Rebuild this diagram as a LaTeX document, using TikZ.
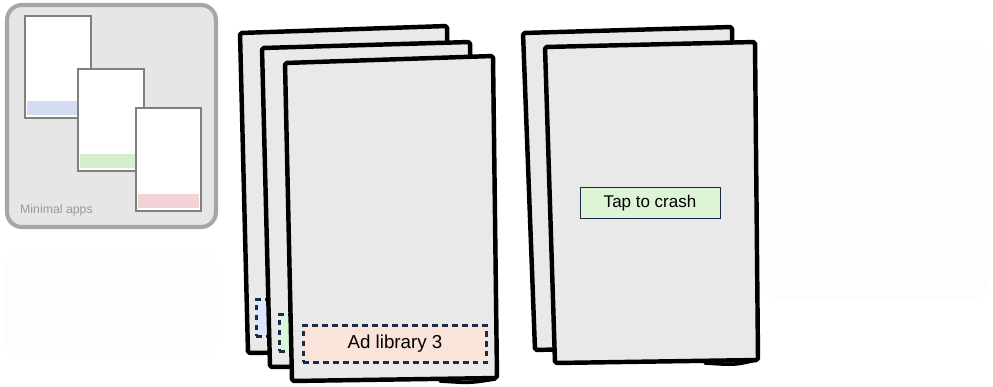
\documentclass[tikz,border=0pt]{standalone}
\usepackage{fontspec}
\setmainfont{Liberation Sans}
\usetikzlibrary{positioning}

\definecolor{pagegray}{HTML}{E9E9E9}
\definecolor{navy}{HTML}{1B2A47}
\definecolor{adblue}{HTML}{DBE6FB}
\definecolor{adgreen}{HTML}{DCF6D9}
\definecolor{adpeach}{HTML}{FAE3D8}
\definecolor{btngreen}{HTML}{DDF5D6}
\definecolor{thumbgray}{HTML}{E6E6E6}
\definecolor{fadegray}{HTML}{FDFDFD}
\definecolor{bandblue}{HTML}{D3DCF3}
\definecolor{bandgreen}{HTML}{D6EDCE}
\definecolor{bandred}{HTML}{F4D3D6}

\begin{document}
\begin{tikzpicture}[x=0.03cm,y=-0.03cm,
  page/.style={draw=black, line width=3.8pt, fill=pagegray, line join=round, rounded corners=1.5pt},
  sketch/.style={draw=black, line width=3pt, line cap=round},
  adbox/.style={draw=navy, fill=#1, dashed, dash pattern=on 5pt off 3.5pt, line width=2.3pt,
    minimum width=5.5cm, minimum height=1.1cm, inner sep=0pt, font=\fontsize{16}{18}\selectfont},
  button/.style={draw=navy, fill=btngreen, line width=0.8pt, minimum width=4.2cm,
    minimum height=0.93cm, inner sep=0pt, font=\fontsize{14.5}{16}\selectfont},
  phone/.style={draw=black!50, fill=white, line width=1.8pt},
  fadebox/.style={fill=fadegray, rounded corners=0.6cm}]

\useasboundingbox (0,0) rectangle (993,386);

% faded panels
\fill[fadebox] (760,42) rectangle (990,300);
\fill[fadebox] (5,250) rectangle (217,358);

% thumbnail of the minimal apps
\draw[draw=black!35, fill=thumbgray, line width=3.5pt, rounded corners=0.45cm] (7,5) rectangle (216,227);
\draw[phone] (25,16) rectangle (91,118);
\fill[bandblue] (27,101) rectangle (89,115);
\draw[phone] (78,69) rectangle (144,171);
\fill[bandgreen] (80,154) rectangle (142,168);
\draw[phone] (136,108) rectangle (201,211);
\fill[bandred] (138,194) rectangle (199,208);
\node[text=black!40, font=\fontsize{10.5}{12}\selectfont, anchor=west, inner sep=0pt] (thumbtext) at (20,210) {Minimal apps};

% left stack, back to front
\draw[page] (240,33) -- (447,26) -- (452,350) -- (248,353) -- cycle;
\node[adbox=adblue] (adA) at (348,318) {};
\draw[page] (262,48) -- (470,42) -- (475,365) -- (270,367) -- cycle;
\node[adbox=adgreen] (adB) at (371,333) {};
\draw[page] (285,63) -- (493,56) -- (497,378) -- (292,381) -- cycle;
\node[adbox=adpeach] (adC) at (395,344) {Ad library 3};
\draw[sketch] (440,381) .. controls (470,383) .. (495,379);

% right stack
\draw[page] (523,33) -- (732,27) -- (735,345) -- (535,350) -- cycle;
\draw[page] (545,47) -- (755,42) -- (758,360) -- (555,363) -- cycle;
\node[button] (crash) at (650,203) {Tap to crash};
\draw[sketch] (705,363) .. controls (735,365) .. (756,360);

\end{tikzpicture}
\end{document}
